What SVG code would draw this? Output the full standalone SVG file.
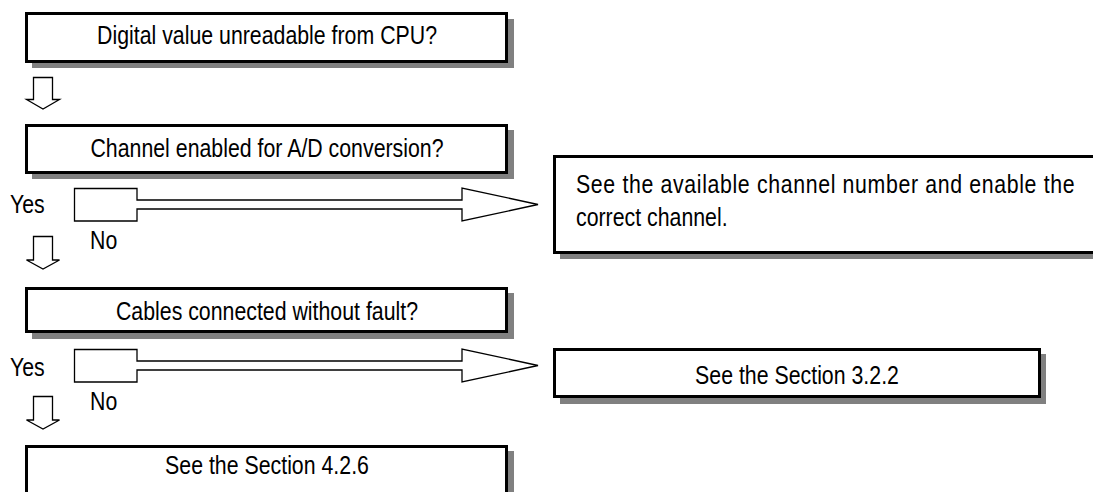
<svg xmlns="http://www.w3.org/2000/svg" width="1093" height="492" viewBox="0 0 1093 492">
<style>
.box{fill:#fff;stroke:#000;stroke-width:3}
.shadow{fill:#808080}
.arr{fill:#fff;stroke:#000;stroke-width:1.3;stroke-linejoin:miter}
text{font-family:"Liberation Sans",Arial,sans-serif;font-size:26px;fill:#000}
.c{text-anchor:middle}
</style>
<rect width="1093" height="492" fill="#fff"/>
<g id="n1">
<rect class="shadow" x="32" y="19" width="482" height="49"/>
<rect class="box" x="26.5" y="13.5" width="480" height="48"/>
<text class="c" transform="translate(267,44) scale(0.82,1)">Digital value unreadable from CPU?</text>
</g>
<g id="n2">
<rect class="shadow" x="32" y="130" width="482" height="49"/>
<rect class="box" x="26.5" y="125.5" width="480" height="47"/>
<text class="c" transform="translate(267,157) scale(0.82,1)">Channel enabled for A/D conversion?</text>
</g>
<g id="n3">
<rect class="shadow" x="560" y="162" width="540" height="97"/>
<rect class="box" x="554.5" y="156.5" width="560" height="96"/>
<text transform="translate(576,193) scale(0.82,1)" textLength="608" lengthAdjust="spacing">See the available channel number and enable the</text>
<text transform="translate(576,226) scale(0.82,1)">correct channel.</text>
</g>
<g id="n4">
<rect class="shadow" x="32" y="293" width="482" height="46"/>
<rect class="box" x="26.5" y="288.5" width="480" height="43"/>
<text class="c" transform="translate(267,320) scale(0.82,1)">Cables connected without fault?</text>
</g>
<g id="n5">
<rect class="shadow" x="560" y="354" width="486" height="50"/>
<rect class="box" x="554.5" y="349.5" width="485" height="47"/>
<text class="c" transform="translate(797,384) scale(0.82,1)">See the Section 3.2.2</text>
</g>
<g id="n6">
<rect class="shadow" x="32" y="451" width="482" height="60"/>
<rect class="box" x="26.5" y="446.5" width="480" height="60"/>
<text class="c" transform="translate(267,474) scale(0.82,1)">See the Section 4.2.6</text>
</g>
<g id="labels">
<text transform="translate(10,213) scale(0.82,1)">Yes</text>
<text transform="translate(90,249) scale(0.82,1)">No</text>
<text transform="translate(10,376) scale(0.82,1)">Yes</text>
<text transform="translate(90,410) scale(0.82,1)">No</text>
</g>
<g id="connectors">
<path class="arr" d="M33.5,77.5 H52.5 V99.5 H59.5 L43,109 L26.5,99.5 H33.5 Z"/>
<path class="arr" d="M33.5,236.5 H52.5 V260 H59.5 L43,269 L26.5,260 H33.5 Z"/>
<path class="arr" d="M33.5,396.5 H52.5 V420 H59.5 L43,429 L26.5,420 H33.5 Z"/>
<path class="arr" d="M74.5,188.5 H137 V200 H462 V188 L538,204.5 L462,221 V209 H137 V221 H74.5 Z"/>
<path class="arr" d="M74.5,349.5 H137 V361 H462 V349 L538,365.5 L462,382 V370 H137 V382 H74.5 Z"/>
</g>
</svg>
